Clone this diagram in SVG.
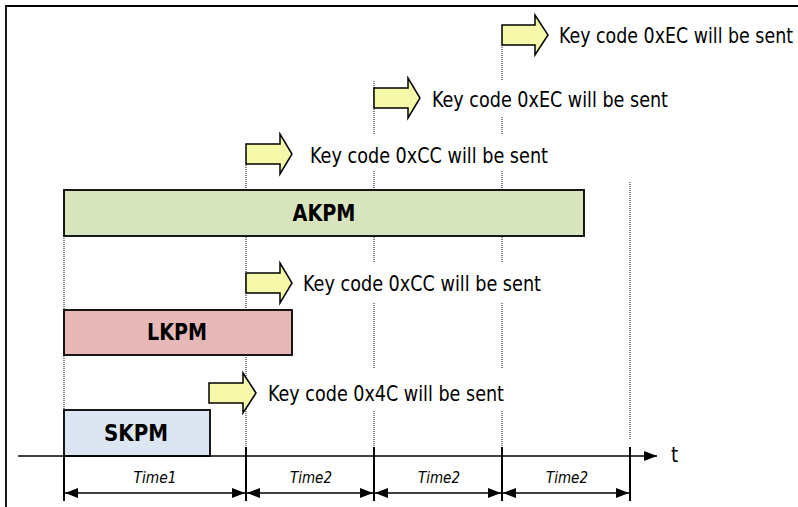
<svg xmlns="http://www.w3.org/2000/svg" width="798" height="507" viewBox="0 0 798 507">
<defs>
<marker id="ah" markerWidth="13" markerHeight="10" refX="13" refY="5" orient="auto-start-reverse" markerUnits="userSpaceOnUse">
<path d="M0,0 L13,5 L0,10 Z" fill="#000"/>
</marker>
</defs>
<style>
.dot{stroke:#111;stroke-width:1;stroke-dasharray:1 1;fill:none}
.tick{stroke:#000;stroke-width:2;fill:none}
.dim{stroke:#000;stroke-width:1.5;fill:none;marker-start:url(#ah);marker-end:url(#ah)}
.bar{stroke:#000;stroke-width:1.8}
.blk{fill:#f4f8a8;stroke:#000;stroke-width:1.5;stroke-linejoin:miter}
.lbl{font-family:"DejaVu Sans Condensed","DejaVu Sans",sans-serif;font-size:20.5px;fill:#000}
.bold{font-family:"DejaVu Sans Condensed","DejaVu Sans",sans-serif;font-weight:bold;font-size:23px;fill:#000;text-anchor:middle}
.time{font-family:"DejaVu Sans Condensed","DejaVu Sans",sans-serif;font-style:italic;font-size:15.5px;fill:#000;text-anchor:middle}
.bg{fill:#fff}
</style>
<rect width="798" height="507" fill="#fff"/>
<path d="M6,507 V6 H798" fill="none" stroke="#000" stroke-width="1.8"/>
<g id="guides">
<line class="dot" x1="64" y1="236" x2="64" y2="456"/>
<line class="dot" x1="246" y1="163" x2="246" y2="447"/>
<line class="dot" x1="374" y1="81" x2="374" y2="447"/>
<line class="dot" x1="502" y1="45" x2="502" y2="447"/>
<line class="dot" x1="630" y1="182" x2="630" y2="440"/>
</g>
<g id="AKPM"><rect class="bar" x="64" y="190" width="520" height="46" fill="#d7e4bd"/><text class="bold" x="324" y="221" textLength="63" lengthAdjust="spacingAndGlyphs">AKPM</text></g>
<g id="LKPM"><rect class="bar" x="64" y="310" width="228" height="45" fill="#e6b9b8"/><text class="bold" x="177" y="340" textLength="60" lengthAdjust="spacingAndGlyphs">LKPM</text></g>
<g id="SKPM"><rect class="bar" x="64" y="410" width="146" height="46" fill="#dce6f2"/><text class="bold" x="136" y="441" textLength="64" lengthAdjust="spacingAndGlyphs">SKPM</text></g>
<g id="msg1"><rect class="bg" x="300" y="134" width="252" height="37"/><path class="blk" d="M246,144 H280 V134 L292,154 L280,174 V164 H246 Z"/><text class="lbl" x="310" y="163" textLength="238" lengthAdjust="spacingAndGlyphs">Key code 0xCC will be sent</text></g>
<g id="msg2"><rect class="bg" x="426" y="80" width="248" height="37"/><path class="blk" d="M374,88 H408 V78 L420,98 L408,118 V108 H374 Z"/><text class="lbl" x="432" y="107" textLength="236" lengthAdjust="spacingAndGlyphs">Key code 0xEC will be sent</text></g>
<g id="msg3"><path class="blk" d="M502,25 H535 V15 L548,35 L535,55 V45 H502 Z"/><text class="lbl" x="559" y="43" font-size="18.5" textLength="234" lengthAdjust="spacingAndGlyphs">Key code 0xEC will be sent</text></g>
<g id="msg4"><rect class="bg" x="298" y="263" width="248" height="39"/><path class="blk" d="M246,273 H280 V263 L292,283 L280,303 V293 H246 Z"/><text class="lbl" x="303" y="291" textLength="238" lengthAdjust="spacingAndGlyphs">Key code 0xCC will be sent</text></g>
<g id="msg5"><rect class="bg" x="262" y="368" width="246" height="42"/><path class="blk" d="M209,383 H243 V373 L256,393 L243,413 V403 H209 Z"/><text class="lbl" x="268" y="401" textLength="236" lengthAdjust="spacingAndGlyphs">Key code 0x4C will be sent</text></g>
<g id="connectors">
<line x1="18" y1="456" x2="657" y2="456" stroke="#000" stroke-width="1.5" marker-end="url(#ah)"/>
<line class="tick" x1="64" y1="456" x2="64" y2="501"/>
<line class="tick" x1="246" y1="447" x2="246" y2="501"/>
<line class="tick" x1="374" y1="447" x2="374" y2="501"/>
<line class="tick" x1="502" y1="447" x2="502" y2="501"/>
<line class="tick" x1="630" y1="447" x2="630" y2="501"/>
<line class="dim" x1="65" y1="493" x2="245" y2="493"/>
<line class="dim" x1="247" y1="493" x2="373" y2="493"/>
<line class="dim" x1="375" y1="493" x2="501" y2="493"/>
<line class="dim" x1="503" y1="493" x2="629" y2="493"/>
</g>
<g id="labels">
<text class="lbl" x="671" y="462" font-size="18">t</text>
<text class="time" x="155" y="483" textLength="43" lengthAdjust="spacingAndGlyphs">Time1</text>
<text class="time" x="311" y="483" textLength="42" lengthAdjust="spacingAndGlyphs">Time2</text>
<text class="time" x="439" y="483" textLength="42" lengthAdjust="spacingAndGlyphs">Time2</text>
<text class="time" x="567" y="483" textLength="42" lengthAdjust="spacingAndGlyphs">Time2</text>
</g>
</svg>
